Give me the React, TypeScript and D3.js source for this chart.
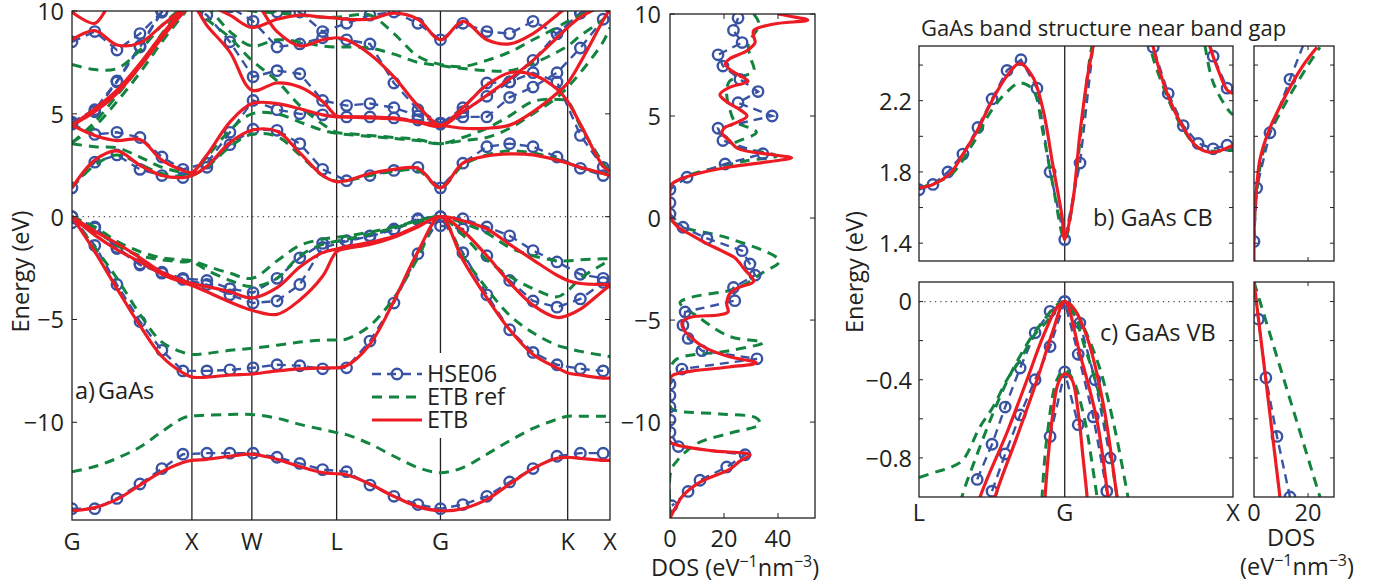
import React from "react";
import * as d3 from "d3";

const RED = "#ed1c24";
const GREEN = "#13843f";
const BLUE = "#3953a4";
const INK = "#231f20";
const FONT = "'Open Sans', 'Noto Sans', sans-serif";

// ---------- a) full band structure, path G-X-W-L-G-K-X (k in 2pi/a) ----------
const symLabels = ["G", "X", "W", "L", "G", "K", "X"];
const symK = [0, 1, 1.5, 2.207, 3.073, 4.134, 4.487];

const kLine = [0, 0.19, 0.375, 0.567, 0.75, 0.925, 1.0, 1.125, 1.317, 1.5, 1.71, 1.9, 2.09, 2.207,
  2.29, 2.485, 2.685, 2.885, 3.073, 3.26, 3.46, 3.65, 3.845, 4.045, 4.134, 4.24, 4.43, 4.487];
const kHse = [0, 0.19, 0.375, 0.567, 0.75, 0.925, 1.125, 1.317, 1.51, 1.71, 1.9, 2.09, 2.29,
  2.485, 2.685, 2.885, 3.073, 3.26, 3.46, 3.65, 3.845, 4.045, 4.24, 4.43];

// ETB (red)
const etbV1 = [-14.3, -14.15, -13.75, -13.05, -12.4, -11.95, -11.85, -11.8, -11.65, -11.55, -11.8, -12.15, -12.45, -12.5, -12.55, -13.0, -13.6, -14.1, -14.3, -14.2, -13.75, -13.0, -12.25, -11.75, -11.7, -11.75, -11.85, -11.85];
const etbV2 = [0, -1.7, -3.5, -5.3, -6.8, -7.6, -7.8, -7.8, -7.7, -7.65, -7.5, -7.4, -7.35, -7.35, -7.25, -6.2, -4.1, -1.7, 0, -2.1, -3.95, -5.5, -6.7, -7.35, -7.6, -7.7, -7.85, -7.85];
const etbV3 = [0, -0.7, -1.3, -2.0, -2.7, -3.1, -3.25, -3.4, -3.65, -3.95, -3.45, -2.45, -1.75, -1.57, -1.45, -1.25, -0.95, -0.45, 0, -0.2, -0.6, -1.35, -2.1, -2.85, -3.1, -3.25, -3.3, -3.3];
const etbV4 = [0, -0.9, -1.6, -2.2, -2.8, -3.2, -3.35, -3.65, -4.15, -4.55, -4.75, -4.05, -2.9, -1.7, -1.55, -1.35, -1.0, -0.5, 0, -0.7, -1.9, -3.2, -4.3, -4.9, -4.8, -4.5, -3.6, -3.35];
const etbC1 = [1.4, 2.75, 3.2, 2.5, 2.0, 1.9, 2.0, 2.45, 3.6, 4.2, 4.15, 3.1, 2.0, 1.7, 1.75, 2.1, 2.3, 2.35, 1.4, 2.6, 2.95, 3.05, 3.0, 2.75, 2.6, 2.4, 2.1, 2.0];
const etbC2 = [4.45, 3.95, 3.7, 3.75, 2.75, 2.25, 2.15, 3.0, 4.6, 5.5, 5.5, 5.25, 4.95, 4.85, 4.85, 4.85, 4.8, 4.6, 4.4, 5.3, 6.4, 7.0, 6.9, 6.2, 5.6, 4.5, 2.45, 2.2];
const etbC3 = [4.45, 5.1, 6.0, 7.3, 8.7, 9.9, 10.3, 9.3, 8.0, 6.15, 6.5, 6.3, 5.6, 4.9, 4.85, 4.8, 4.75, 4.6, 4.45, 4.3, 4.3, 4.45, 5.1, 6.0, 6.5, 7.5, 9.55, 10.1];
const etbC4 = [4.45, 5.25, 6.15, 7.45, 8.85, 10.05, 10.4, 10.6, 10.8, 10.6, 9.0, 8.3, 8.6, 8.7, 8.6, 7.9, 6.8, 5.4, 4.45, 5.1, 5.9, 6.7, 7.6, 8.7, 9.2, 9.7, 10.3, 10.5];
const etbC5 = [8.6, 9.05, 8.35, 8.45, 9.3, 10.1, 10.4, 10.3, 9.8, 9.2, 9.6, 9.8, 9.7, 9.65, 9.6, 9.6, 9.9, 9.6, 8.6, 9.5, 8.6, 8.4, 8.9, 9.8, 10.2, 10.5, 10.6, 10.6];
const etbC6K = [0, 0.19, 0.3];
const etbC6 = [9.95, 9.4, 10.3];

// ETB ref (green)
const refV1 = [-12.4, -12.15, -11.75, -11.2, -10.45, -9.8, -9.7, -9.65, -9.62, -9.62, -9.8, -10.1, -10.35, -10.5, -10.6, -11.05, -11.65, -12.2, -12.45, -12.2, -11.55, -10.9, -10.3, -9.85, -9.7, -9.7, -9.7, -9.7];
const refV2 = [0, -1.5, -3.0, -4.75, -6.1, -6.6, -6.7, -6.65, -6.5, -6.4, -6.25, -6.1, -6.0, -6.0, -5.95, -5.3, -3.95, -2.0, 0, -1.9, -3.5, -4.8, -5.65, -6.25, -6.4, -6.55, -6.75, -6.8];
const refV3 = [0, -0.5, -1.2, -1.7, -2.0, -2.1, -2.15, -2.4, -2.75, -3.0, -2.15, -1.4, -1.1, -1.0, -0.95, -0.75, -0.5, -0.2, 0, -0.3, -0.8, -1.5, -1.9, -2.15, -2.15, -2.1, -2.05, -2.05];
const refV4 = [0, -0.6, -1.4, -1.9, -2.1, -2.2, -2.2, -2.6, -3.1, -3.4, -3.0, -1.9, -1.35, -1.2, -1.1, -0.85, -0.55, -0.25, 0, -0.9, -2.1, -2.9, -3.5, -3.9, -3.6, -3.0, -2.3, -2.1];
const refC1 = [1.42, 2.5, 3.0, 2.55, 2.1, 1.95, 2.0, 2.4, 3.4, 4.0, 3.9, 3.0, 2.0, 1.72, 1.75, 2.0, 2.2, 2.25, 1.42, 2.5, 3.0, 3.2, 3.1, 2.8, 2.6, 2.4, 2.1, 2.05];
const refC2 = [3.55, 3.4, 3.35, 2.9, 2.4, 2.15, 2.1, 2.9, 4.2, 5.0, 5.0, 4.6, 4.2, 4.05, 4.0, 3.9, 3.8, 3.7, 3.55, 3.85, 4.3, 4.9, 5.6, 5.7, 5.6, 4.4, 2.6, 2.15];
const refC3 = [3.6, 4.4, 5.6, 7.0, 8.5, 9.8, 10.3, 9.6, 8.7, 7.6, 6.6, 5.4, 4.5, 4.1, 4.05, 3.95, 3.85, 3.75, 3.55, 3.7, 3.85, 4.3, 5.0, 5.8, 6.3, 7.0, 8.5, 9.2];
const refC4 = [3.6, 4.6, 5.9, 7.3, 8.9, 10.2, 10.6, 10.2, 9.0, 8.3, 8.6, 8.5, 8.3, 8.25, 8.25, 8.2, 7.9, 7.5, 7.35, 7.2, 7.1, 7.1, 7.45, 8.0, 8.3, 8.8, 9.6, 10.0];
const refC5 = [7.4, 7.15, 7.2, 8.1, 9.3, 10.2, 10.5, 10.4, 10.2, 10.0, 9.9, 9.8, 9.7, 9.7, 9.75, 9.8, 8.9, 7.8, 7.4, 7.3, 7.6, 8.0, 8.6, 9.2, 9.5, 9.8, 10.2, 10.3];

// HSE06 (blue circles)
const hseV1 = [-14.2, -14.2, -13.7, -13.0, -12.25, -11.55, -11.5, -11.5, -11.5, -11.7, -12.0, -12.3, -12.4, -13.05, -13.6, -14.0, -14.2, -14.0, -13.6, -12.9, -12.25, -11.65, -11.5, -11.5];
const hseV2 = [0, -1.4, -3.3, -5.1, -6.5, -7.5, -7.5, -7.45, -7.35, -7.2, -7.25, -7.4, -7.35, -6.05, -4.2, -1.8, 0, -1.75, -3.8, -5.5, -6.6, -7.2, -7.4, -7.5];
const hseV3 = [0, -0.5, -1.5, -2.3, -2.7, -3.0, -3.1, -3.5, -3.7, -3.0, -2.0, -1.3, -1.17, -0.93, -0.6, -0.1, 0, -0.1, -0.5, -0.93, -1.65, -2.2, -2.8, -3.0];
const hseV4 = [-0.3, -0.55, -1.55, -2.35, -2.75, -3.05, -3.3, -3.8, -4.2, -4.1, -3.3, -1.5, -1.2, -0.95, -0.65, -0.15, -0.44, -0.6, -1.9, -3.1, -4.1, -4.4, -4.0, -3.2];
const hseC1 = [1.4, 2.65, 3.0, 2.3, 2.0, 1.9, 2.4, 3.5, 4.25, 4.2, 3.55, 2.3, 1.75, 2.0, 2.25, 2.4, 1.4, 2.6, 3.4, 3.55, 3.4, 2.9, 2.35, 2.0];
const hseC2 = [4.5, 4.0, 4.1, 3.85, 2.9, 2.3, 2.6, 4.1, 5.65, 5.2, 5.0, 4.95, 4.85, 4.85, 4.8, 4.7, 4.5, 5.3, 6.5, 6.55, 7.0, 6.55, 3.95, 2.4];
const hseC3 = [4.55, 5.1, 6.55, 8.25, 9.95, 10.5, 9.8, 8.5, 6.8, 7.1, 6.95, 5.65, 5.4, 5.5, 5.3, 4.9, 4.55, 4.85, 4.85, 5.8, 6.3, 7.0, 8.2, 9.6];
const hseC4 = [4.6, 5.2, 6.6, 8.3, 10.0, 10.6, 10.8, 10.2, 9.5, 8.25, 8.4, 8.7, 8.6, 8.4, 6.5, 5.2, 4.55, 5.1, 5.85, 6.55, 7.6, 8.9, 9.9, 10.4];
const hseC5 = [8.5, 9.0, 8.1, 8.9, 9.95, 10.6, 10.8, 10.6, 10.3, 9.95, 9.95, 9.0, 9.4, 9.8, 9.95, 9.4, 8.6, 9.4, 9.0, 8.9, 9.5, 8.9, 9.9, 10.4];

// ---------- DOS of panel a (energy eV, DOS eV^-1 nm^-3) ----------
const dosEtbE = [10, 9.9, 9.7, 9.5, 9.2, 8.9, 8.6, 8.2, 7.8, 7.55, 7.2, 6.9, 6.7, 6.4, 6.05, 5.7, 5.3, 5.0, 4.7, 4.4, 4.15, 3.8, 3.4, 3.1, 2.95, 2.75, 2.5, 2.1, 1.8, 1.6, 1.5, 0.2, 0, -0.45, -0.8, -1.25, -1.6, -1.95, -2.5, -3.1, -3.4, -3.7, -4.2, -4.6, -4.75, -4.85, -5.1, -5.5, -5.8, -6.1, -6.4, -6.8, -7.1, -7.3, -7.5, -7.7, -7.85, -10.95, -11.1, -11.4, -11.6, -11.9, -12.3, -12.95, -13.6, -14.2, -14.7];
const dosEtb = [40, 44, 51, 38, 31, 31, 31.5, 28.5, 22, 20.5, 23, 27, 28.9, 22, 18.5, 21, 26, 28.5, 25, 20, 19.3, 22, 25.2, 38, 45, 36, 22, 8, 2, 0.3, 0, 0, 0.3, 3, 7.5, 13.6, 19, 24, 27.5, 31, 25.5, 22.2, 21, 21.5, 18, 8, 4.5, 5.2, 7.5, 10, 13.7, 22, 32, 22, 8, 1.1, 0, 0, 1.9, 15, 29.6, 26, 22.2, 11, 4.8, 2, 0];
const dosRefE = [10, 9.5, 8.5, 7.8, 7.2, 6.7, 6.05, 5.4, 4.75, 4.2, 3.6, 3.05, 2.8, 2.4, 2.0, 1.6, 1.4, 0, -0.4, -1.0, -2.1, -2.7, -3.3, -3.55, -3.9, -4.15, -4.8, -5.8, -6.1, -6.5, -6.9, -7.3, -9.3, -9.45, -9.6, -9.8, -10.1, -10.55, -11.05, -11.9, -12.4, -14.7];
const dosRef = [31, 33, 29, 30, 31, 22, 21, 22, 24, 32, 23.5, 39.5, 28, 15, 5, 0.5, 0, 0, 4, 22, 40.5, 34, 27, 22, 7.4, 3.7, 10, 22, 34.4, 22, 2.6, 0.3, 0.3, 2.6, 18.5, 32, 33.3, 22, 10, 2.6, 0.3, 0];
const dosHseE = [9.8, 9.2, 8.6, 8.0, 7.45, 6.8, 6.2, 5.65, 5.0, 4.4, 3.8, 3.15, 2.65, 2.0, 1.4, 0.75, 0.2, -0.45, -1.0, -1.6, -2.25, -2.8, -3.4, -4.05, -4.6, -5.25, -5.9, -6.5, -6.9, -7.4, -8.15, -8.7, -9.25, -9.9, -10.5, -11.2, -11.6, -12.2, -12.85, -13.4, -14.1];
const dosHse = [25.2, 23.5, 26.7, 17.8, 19.6, 25.9, 32.6, 25.2, 37.8, 17.8, 19.6, 34.4, 20.4, 6.3, 0, 0, 0, 4.8, 13.7, 26.7, 29.6, 31.5, 23.5, 24, 5.6, 4.8, 6.7, 11.8, 32.2, 4.4, 0, 0, 0, 0, 0, 3.1, 27.8, 21, 11.1, 6.7, 0.7];

// ---------- b) conduction band near gap, path L-G-X ----------
const cbEtbK = [-0.866, -0.783, -0.682, -0.605, -0.521, -0.432, -0.343, -0.266, -0.188, -0.129, -0.069, -0.016, 0, 0.049, 0.091, 0.138, 0.168, 0.3, 0.45, 0.526, 0.609, 0.704, 0.787, 0.876, 1.0];
const cbEtb = [1.71, 1.73, 1.79, 1.9, 2.03, 2.2, 2.34, 2.41, 2.33, 2.15, 1.83, 1.55, 1.42, 1.64, 2.02, 2.35, 2.5, 3.1, 2.9, 2.5, 2.24, 2.05, 1.94, 1.91, 1.95];
const cbEtb2K = [0.8, 0.864, 0.905, 0.965, 1.0];
const cbEtb2 = [2.75, 2.5, 2.39, 2.26, 2.24];
const cbRefK = [-0.866, -0.682, -0.545, -0.432, -0.343, -0.266, -0.188, -0.129, -0.069, 0, 0.05, 0.1, 0.16, 0.3, 0.45, 0.508, 0.585, 0.686, 0.805, 0.983, 1.0];
const cbRef = [1.71, 1.78, 1.96, 2.15, 2.25, 2.3, 2.26, 2.02, 1.72, 1.42, 1.65, 2.05, 2.5, 3.1, 2.85, 2.5, 2.28, 2.07, 1.93, 1.92, 1.92];
const cbRef2K = [0.8, 0.835, 0.883, 0.97, 1.0];
const cbRef2 = [2.7, 2.5, 2.3, 2.15, 2.12];
const cbHseK = [-0.866, -0.783, -0.694, -0.605, -0.516, -0.432, -0.343, -0.26, -0.165, -0.087, 0, 0.091, 0.18, 0.27, 0.36, 0.45, 0.526, 0.615, 0.704, 0.793, 0.882, 0.965];
const cbHse = [1.7, 1.73, 1.8, 1.9, 2.05, 2.21, 2.37, 2.43, 2.27, 1.8, 1.42, 1.85, 2.6, 3.0, 3.1, 2.85, 2.5, 2.24, 2.06, 1.96, 1.93, 1.95];
const cbHse2K = [0.793, 0.882, 0.965];
const cbHse2 = [2.75, 2.45, 2.27];

// ---------- c) valence band near gap ----------
const vbEtbAK = [-0.6, -0.503, -0.343, -0.224, -0.129, -0.046, 0, 0.05, 0.132, 0.228, 0.311, 0.36];
const vbEtbA = [-1.3, -1.0, -0.67, -0.4, -0.18, -0.03, 0, -0.03, -0.18, -0.52, -1.0, -1.3];
const vbEtbBK = [-0.47, -0.414, -0.283, -0.164, -0.07, 0, 0.091, 0.192, 0.257, 0.3];
const vbEtbB = [-1.2, -1.0, -0.69, -0.4, -0.15, 0, -0.27, -0.61, -1.0, -1.3];
const vbEtbSoK = [-0.125, -0.117, -0.099, -0.07, -0.04, 0, 0.043, 0.079, 0.109, 0.133, 0.14];
const vbEtbSo = [-1.1, -1.0, -0.8, -0.57, -0.42, -0.37, -0.4, -0.56, -0.8, -1.0, -1.1];
const vbRefAK = [-0.866, -0.759, -0.682, -0.605, -0.503, -0.426, -0.343, -0.266, -0.188, -0.105, -0.028, 0, 0.049, 0.192, 0.287, 0.376, 0.43];
const vbRefA = [-0.9, -0.87, -0.85, -0.81, -0.64, -0.54, -0.4, -0.3, -0.18, -0.1, -0.01, 0, -0.03, -0.3, -0.61, -1.0, -1.25];
const vbRefBK = [-0.66, -0.611, -0.533, -0.444, -0.355, -0.266, -0.147, 0, 0.133, 0.228, 0.287, 0.311, 0.33];
const vbRefB = [-1.2, -1.0, -0.81, -0.61, -0.43, -0.28, -0.12, 0, -0.27, -0.56, -0.86, -1.0, -1.1];
const vbRefSoK = [-0.14, -0.135, -0.105, -0.046, 0, 0.049, 0.12, 0.168, 0.192, 0.2];
const vbRefSo = [-1.1, -1.0, -0.69, -0.4, -0.35, -0.4, -0.61, -0.86, -1.0, -1.05];
const vbHseAK = [-0.52, -0.432, -0.354, -0.265, -0.176, -0.087, 0, 0.09, 0.18, 0.27];
const vbHseA = [-0.91, -0.73, -0.54, -0.34, -0.16, -0.05, 0, -0.11, -0.4, -0.8];
const vbHseBK = [-0.432, -0.354, -0.265, -0.176, -0.087, 0, 0.08, 0.17, 0.25];
const vbHseB = [-0.97, -0.78, -0.58, -0.4, -0.23, 0, -0.27, -0.59, -0.97];
const vbHseSoK = [-0.087, 0, 0.08];
const vbHseSo = [-0.69, -0.36, -0.63];

// ---------- DOS near gap ----------
const dosCbEtbE = [1.3, 1.42, 1.55, 1.64, 1.75, 1.87, 2.02, 2.2, 2.39, 2.5];
const dosCbEtb = [0, 0, 0.2, 0.5, 1.2, 2.2, 5.2, 10.7, 17.8, 23.3];
const dosCbRefE = [1.42, 1.6, 1.85, 1.98, 2.13, 2.39, 2.5];
const dosCbRef = [0, 0.5, 2.5, 4.8, 9.6, 19.6, 24.4];
const dosCbHseE = [1.41, 1.71, 2.02, 2.32, 2.6];
const dosCbHse = [0, 1.0, 5.9, 13.3, 20.5];
const dosVbEtbE = [0.1, -1.0];
const dosVbEtb = [0, 9.6];
const dosVbRefE = [0.1, -1.0];
const dosVbRef = [0, 24.4];
const dosVbHseE = [0.1, -0.09, -0.39, -0.69, -1.0];
const dosVbHse = [0, 1.6, 4.4, 8.5, 13.3];

const etbBands = [etbV1, etbV2, etbV3, etbV4, etbC1, etbC2, etbC3, etbC4, etbC5];
const refBands = [refV1, refV2, refV3, refV4, refC1, refC2, refC3, refC4, refC5];
const hseBands = [hseV1, hseV2, hseV3, hseV4, hseC1, hseC2, hseC3, hseC4, hseC5];

const smooth = d3.curveCatmullRom.alpha(0.5);

type Scale = d3.ScaleLinear<number, number>;

const kPath = (ks: number[], es: number[], x: Scale, y: Scale, curve: d3.CurveFactory = smooth) =>
  d3.line<number>().x((_, i) => x(ks[i])).y((d) => y(d)).curve(curve)(es) ?? "";

const dPath = (es: number[], ds: number[], x: Scale, y: Scale, curve: d3.CurveFactory = smooth) =>
  d3.line<number>().x((d) => x(d)).y((_, i) => y(es[i])).curve(curve)(ds) ?? "";

const etbStyle = { fill: "none", stroke: RED, strokeWidth: 3.2, strokeLinejoin: "round" as const };
const refStyle = { fill: "none", stroke: GREEN, strokeWidth: 3, strokeDasharray: "10 7" };
const hseStyle = { fill: "none", stroke: BLUE, strokeWidth: 2.4, strokeDasharray: "9 6" };

function Hse({ xs, ys }: { xs: number[]; ys: number[] }) {
  return (
    <g>
      <path d={d3.line<number>().x((d) => d).y((_, i) => ys[i])(xs) ?? ""} {...hseStyle} />
      {xs.map((x, i) => (
        <circle key={i} cx={x} cy={ys[i]} r={5.2} fill="none" stroke={BLUE} strokeWidth={2.4} />
      ))}
    </g>
  );
}

function YTicks({ y, x0, x1, values, len = 5 }: { y: Scale; x0: number; x1: number; values: number[]; len?: number }) {
  return (
    <g stroke={INK} strokeWidth={1}>
      {values.map((v) => (
        <g key={v}>
          <line x1={x0} x2={x0 + len} y1={y(v)} y2={y(v)} />
          <line x1={x1} x2={x1 - len} y1={y(v)} y2={y(v)} />
        </g>
      ))}
    </g>
  );
}

function XTicks({ x, y0, y1, values, len = 5 }: { x: Scale; y0: number; y1: number; values: number[]; len?: number }) {
  return (
    <g stroke={INK} strokeWidth={1}>
      {values.map((v) => (
        <g key={v}>
          <line y1={y0} y2={y0 - len} x1={x(v)} x2={x(v)} />
          <line y1={y1} y2={y1 + len} x1={x(v)} x2={x(v)} />
        </g>
      ))}
    </g>
  );
}

const minus = (v: number) => (v < 0 ? "\u2212" + Math.abs(v) : String(v));

function DosUnit({ x, y, anchor = "middle" }: { x: number; y: number; anchor?: string }) {
  return (
    <text x={x} y={y} textAnchor={anchor}>
      <tspan>(eV</tspan>
      <tspan dy={-9} fontSize={16}>{"\u22121"}</tspan>
      <tspan dy={9}>nm</tspan>
      <tspan dy={-9} fontSize={16}>{"\u22123"}</tspan>
      <tspan dy={9}>)</tspan>
    </text>
  );
}

export default function App() {
  const xMain = d3.scaleLinear().domain([0, 4.487]).range([72, 610]);
  const yMain = d3.scaleLinear().domain([-14.75, 10]).range([520, 11]);
  const xDos = d3.scaleLinear().domain([0, 53.7]).range([670, 815]);
  const yDos = d3.scaleLinear().domain([-14.7, 10]).range([518, 14]);
  const xGap = d3.scaleLinear().domain([-0.866, 1]).range([919, 1233]);
  const yCb = d3.scaleLinear().domain([1.3, 2.507]).range([261, 46]);
  const yVb = d3.scaleLinear().domain([-1.0, 0.1]).range([497, 282]);
  const xDosGap = d3.scaleLinear().domain([0, 29.6]).range([1254, 1334]);

  const box = (x0: number, y0: number, x1: number, y1: number) => (
    <rect x={x0} y={y0} width={x1 - x0} height={y1 - y0} fill="none" stroke={INK} strokeWidth={1.3} />
  );

  const mainY = [10, 5, 0, -5, -10];
  const cbY = [1.4, 1.6, 1.8, 2.0, 2.2, 2.4];
  const vbY = [0, -0.2, -0.4, -0.6, -0.8];

  return (
    <svg width={1391} height={587} style={{ position: "absolute", left: 0, top: 0, background: "#fff" }}
      fontFamily={FONT} fontSize={23.5} fill={INK}>
      <defs>
        <clipPath id="cMain"><rect x={72} y={11} width={538} height={509} /></clipPath>
        <clipPath id="cDos"><rect x={670} y={14} width={145} height={504} /></clipPath>
        <clipPath id="cCb"><rect x={919} y={46} width={314} height={215} /></clipPath>
        <clipPath id="cVb"><rect x={919} y={282} width={314} height={215} /></clipPath>
        <clipPath id="cDosCb"><rect x={1254} y={46} width={80} height={215} /></clipPath>
        <clipPath id="cDosVb"><rect x={1254} y={282} width={80} height={215} /></clipPath>
      </defs>
      <rect x={0} y={0} width={1391} height={587} fill="#fff" />

      {/* ---------- panel a ---------- */}
      <line x1={72} x2={610} y1={yMain(0)} y2={yMain(0)} stroke="#555" strokeWidth={1.3} strokeDasharray="1.3 4" />
      {symK.slice(1, -1).map((k, i) => (
        <line key={i} x1={xMain(k)} x2={xMain(k)} y1={11} y2={520} stroke={INK} strokeWidth={1.3} />
      ))}
      <g clipPath="url(#cMain)">
        {hseBands.map((b, i) => (
          <Hse key={i} xs={kHse.map((k) => xMain(k))} ys={b.map((e) => yMain(e))} />
        ))}
        {refBands.map((b, i) => <path key={i} d={kPath(kLine, b, xMain, yMain)} {...refStyle} />)}
        {etbBands.map((b, i) => <path key={i} d={kPath(kLine, b, xMain, yMain)} {...etbStyle} />)}
        <path d={kPath(etbC6K, etbC6, xMain, yMain)} {...etbStyle} />
      </g>
      {box(72, 11, 610, 520)}
      <YTicks y={yMain} x0={72} x1={610} values={mainY} />
      {mainY.map((v) => (
        <text key={v} x={64} y={yMain(v)} dy="0.38em" textAnchor="end">{minus(v)}</text>
      ))}
      {symLabels.map((s, i) => (
        <text key={i} x={xMain(symK[i])} y={550} textAnchor="middle">{s}</text>
      ))}
      <text transform={`translate(29,${(11 + 520) / 2 + 6}) rotate(-90)`} textAnchor="middle">Energy (eV)</text>
      <text x={75} y={399}>a)<tspan dx={3}>GaAs</tspan></text>

      {/* legend */}
      <rect x={368} y={353} width={142} height={85} fill="#fff" />
      <line x1={372} x2={422} y1={374} y2={374} {...hseStyle} />
      <circle cx={397} cy={374} r={5.2} fill="none" stroke={BLUE} strokeWidth={2.4} />
      <line x1={372} x2={422} y1={397} y2={397} {...refStyle} />
      <line x1={372} x2={422} y1={420} y2={420} {...etbStyle} />
      <text x={427} y={382}>HSE06</text>
      <text x={427} y={405}>ETB ref</text>
      <text x={427} y={428}>ETB</text>

      {/* ---------- DOS of panel a ---------- */}
      <g clipPath="url(#cDos)">
        <path d={dPath(dosRefE, dosRef, xDos, yDos)} {...refStyle} />
        <Hse xs={dosHse.map((d) => xDos(d))} ys={dosHseE.map((e) => yDos(e))} />
        <path d={dPath(dosEtbE, dosEtb, xDos, yDos)} {...etbStyle} />
      </g>
      {box(670, 14, 815, 518)}
      <YTicks y={yDos} x0={670} x1={815} values={mainY} />
      <XTicks x={xDos} y0={518} y1={14} values={[20, 40]} />
      {mainY.map((v) => (
        <text key={v} x={661} y={yDos(v)} dy="0.38em" textAnchor="end">{minus(v)}</text>
      ))}
      {[0, 20, 40].map((v) => (
        <text key={v} x={xDos(v)} y={547} textAnchor="middle">{v}</text>
      ))}
      <text x={651} y={576}>DOS <tspan>(eV</tspan><tspan dy={-9} fontSize={16}>{"\u22121"}</tspan><tspan dy={9}>nm</tspan><tspan dy={-9} fontSize={16}>{"\u22123"}</tspan><tspan dy={9}>)</tspan></text>

      {/* ---------- panels b and c ---------- */}
      <text x={921} y={36} fontSize={22}>GaAs band structure near band gap</text>
      <line x1={919} x2={1233} y1={yVb(0)} y2={yVb(0)} stroke="#555" strokeWidth={1.3} strokeDasharray="1.3 4" />
      <line x1={xGap(0)} x2={xGap(0)} y1={46} y2={261} stroke={INK} strokeWidth={1.3} />
      <line x1={xGap(0)} x2={xGap(0)} y1={282} y2={497} stroke={INK} strokeWidth={1.3} />
      <g clipPath="url(#cCb)">
        <Hse xs={cbHseK.map((k) => xGap(k))} ys={cbHse.map((e) => yCb(e))} />
        <Hse xs={cbHse2K.map((k) => xGap(k))} ys={cbHse2.map((e) => yCb(e))} />
        <path d={kPath(cbRefK, cbRef, xGap, yCb)} {...refStyle} />
        <path d={kPath(cbRef2K, cbRef2, xGap, yCb)} {...refStyle} />
        <path d={kPath(cbEtbK, cbEtb, xGap, yCb)} {...etbStyle} />
        <path d={kPath(cbEtb2K, cbEtb2, xGap, yCb)} {...etbStyle} />
      </g>
      <g clipPath="url(#cVb)">
        <Hse xs={vbHseAK.map((k) => xGap(k))} ys={vbHseA.map((e) => yVb(e))} />
        <Hse xs={vbHseBK.map((k) => xGap(k))} ys={vbHseB.map((e) => yVb(e))} />
        <Hse xs={vbHseSoK.map((k) => xGap(k))} ys={vbHseSo.map((e) => yVb(e))} />
        <path d={kPath(vbRefAK, vbRefA, xGap, yVb)} {...refStyle} />
        <path d={kPath(vbRefBK, vbRefB, xGap, yVb)} {...refStyle} />
        <path d={kPath(vbRefSoK, vbRefSo, xGap, yVb)} {...refStyle} />
        <path d={kPath(vbEtbAK, vbEtbA, xGap, yVb)} {...etbStyle} />
        <path d={kPath(vbEtbBK, vbEtbB, xGap, yVb)} {...etbStyle} />
        <path d={kPath(vbEtbSoK, vbEtbSo, xGap, yVb)} {...etbStyle} />
      </g>
      {box(919, 46, 1233, 261)}
      {box(919, 282, 1233, 497)}
      <YTicks y={yCb} x0={919} x1={1233} values={cbY} len={4} />
      <YTicks y={yVb} x0={919} x1={1233} values={vbY} len={4} />
      {[1.4, 1.8, 2.2].map((v) => (
        <text key={v} x={912} y={yCb(v)} dy="0.38em" textAnchor="end">{v.toFixed(1)}</text>
      ))}
      {[0, -0.4, -0.8].map((v) => (
        <text key={v} x={912} y={yVb(v)} dy="0.38em" textAnchor="end">{v === 0 ? "0" : "\u2212" + Math.abs(v).toFixed(1)}</text>
      ))}
      <text x={1093} y={226}>b) GaAs CB</text>
      <text x={1100} y={341}>c) GaAs VB</text>
      {["L", "G", "X"].map((s, i) => (
        <text key={s} x={xGap([-0.866, 0, 1][i])} y={521} textAnchor="middle">{s}</text>
      ))}
      <text transform={`translate(863,272) rotate(-90)`} textAnchor="middle">Energy (eV)</text>

      {/* DOS near gap */}
      <g clipPath="url(#cDosCb)">
        <path d={dPath(dosCbRefE, dosCbRef, xDosGap, yCb)} {...refStyle} />
        <Hse xs={dosCbHse.map((d) => xDosGap(d))} ys={dosCbHseE.map((e) => yCb(e))} />
        <path d={dPath(dosCbEtbE, dosCbEtb, xDosGap, yCb)} {...etbStyle} />
      </g>
      <g clipPath="url(#cDosVb)">
        <path d={dPath(dosVbRefE, dosVbRef, xDosGap, yVb, d3.curveLinear)} {...refStyle} />
        <path d={dPath(dosVbHseE, dosVbHse, xDosGap, yVb, d3.curveLinear)} {...hseStyle} />
        {dosVbHse.slice(1).map((d, i) => (
          <circle key={i} cx={xDosGap(d)} cy={yVb(dosVbHseE[i + 1])} r={5.2} fill="none" stroke={BLUE} strokeWidth={2.4} />
        ))}
        <path d={dPath(dosVbEtbE, dosVbEtb, xDosGap, yVb, d3.curveLinear)} {...etbStyle} />
      </g>
      {box(1254, 46, 1334, 261)}
      {box(1254, 282, 1334, 497)}
      <YTicks y={yCb} x0={1254} x1={1334} values={cbY} len={4} />
      <YTicks y={yVb} x0={1254} x1={1334} values={vbY} len={4} />
      <XTicks x={xDosGap} y0={261} y1={46} values={[20]} len={4} />
      <XTicks x={xDosGap} y0={497} y1={282} values={[20]} len={4} />
      {[0, 20].map((v) => (
        <text key={v} x={xDosGap(v)} y={521} textAnchor="middle">{v}</text>
      ))}
      <text x={1291} y={546} textAnchor="middle">DOS</text>
      <DosUnit x={1297} y={575} />
    </svg>
  );
}
